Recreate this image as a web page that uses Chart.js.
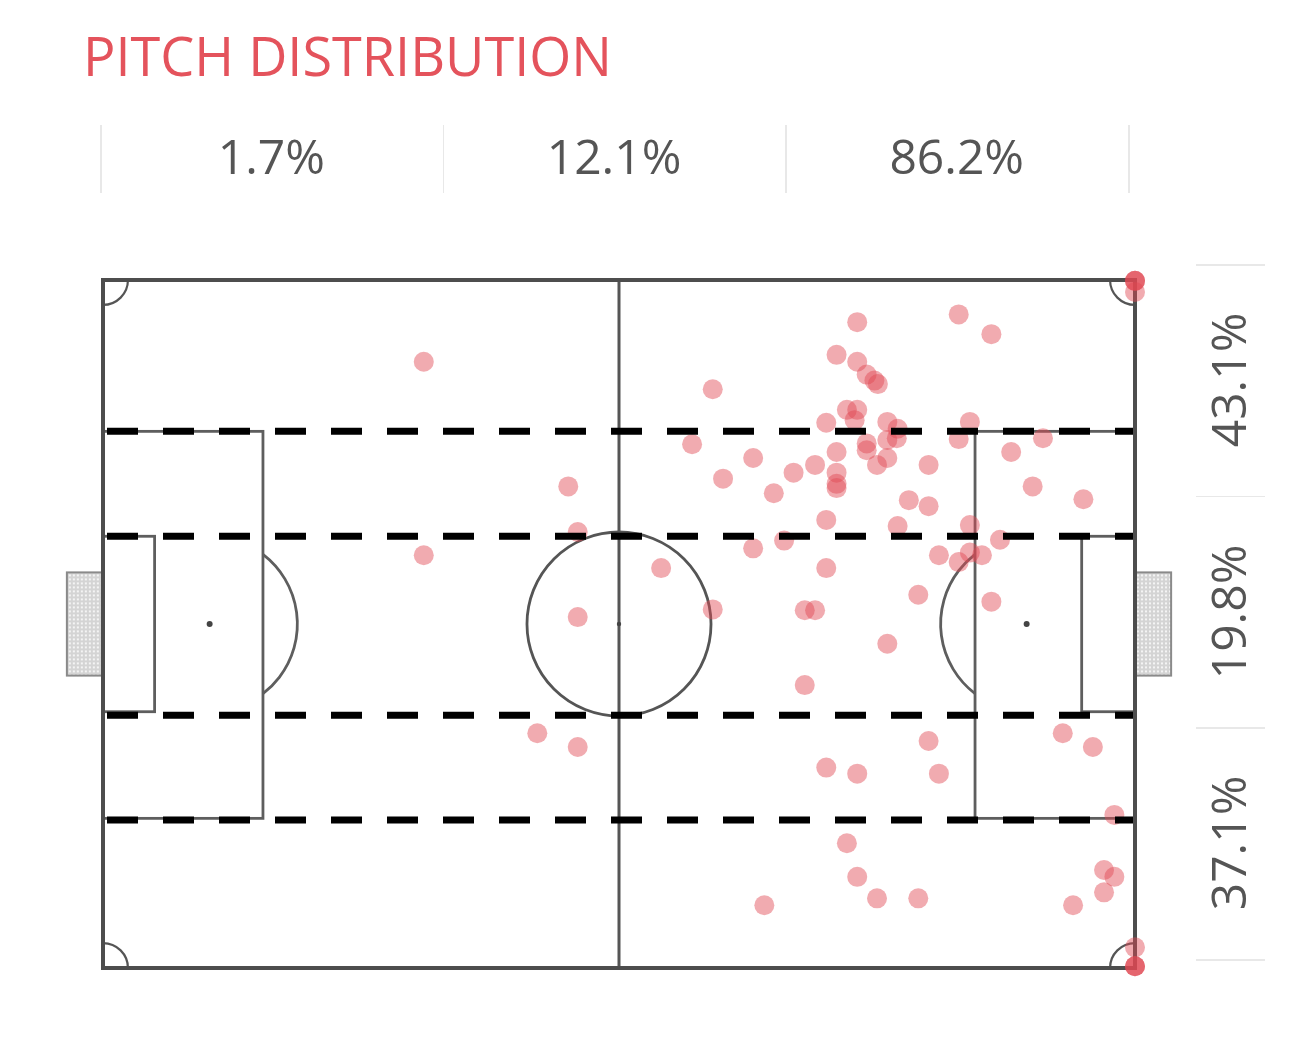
<!DOCTYPE html>
<html>
<head>
<meta charset="utf-8">
<title>Pitch distribution</title>
<script src="https://cdn.jsdelivr.net/npm/chart.js@4.4.1/dist/chart.umd.min.js"></script>
<style>
  body { margin: 0; background: #fff; font-family: "Open Sans", sans-serif; }
  #wrap { position: relative; width: 1316px; height: 1038px; overflow: hidden; }
  #pitchChart { position: absolute; left: 0; top: 0; }
  .title { position: absolute; left: 83px; top: 28px; font-size: 54px; line-height: 55px; color: #e4535c; white-space: nowrap; }
  .pct { position: absolute; font-size: 48px; line-height: 48px; height: 48px; color: #555; text-align: center; white-space: nowrap; }
  .sep { position: absolute; background: #e8e8e8; }
</style>
</head>
<body>
<div id="wrap">
  <canvas id="pitchChart" width="1316" height="1038"></canvas>
  <div class="title">PITCH DISTRIBUTION</div>
</div>
<script>
// share of events per third of the pitch (left to right) and per channel (top to bottom)
const thirdLabels = ['1.7%', '12.1%', '86.2%'];
const channelLabels = ['43.1%', '19.8%', '37.1%'];

// event locations, pitch units 120 x 80 (y measured from the top touchline)
const eventX = [
  37.3, 37.3, 54.1, 55.2, 55.2, 50.5, 55.2, 64.9, 70.9, 68.5,
  70.9, 72.1, 75.6, 78.0, 80.3, 75.6, 79.2, 76.9, 81.6, 82.8,
  81.6, 87.7, 99.5, 103.3, 85.3, 87.7, 88.8, 89.7, 90.1, 86.5,
  87.7, 87.4, 84.1, 91.2, 92.4, 92.3, 91.2, 88.8, 88.8, 85.3,
  91.2, 90.0, 82.8, 85.3, 85.3, 85.3, 96.0, 100.8, 99.5, 109.3,
  105.6, 108.1, 114.0, 93.7, 96.0, 84.1, 92.4, 100.8, 104.3, 97.2,
  99.5, 100.8, 102.2, 84.1, 94.8, 103.3, 91.2, 96.0, 111.6, 115.1,
  84.1, 87.7, 97.2, 117.6, 86.5, 87.7, 116.4, 117.6, 116.4, 90.0,
  94.8, 112.8,
  120, 120, 120, 120, 120, 120, 120, 120
];
const eventY = [
  9.5, 32.0, 24.0, 29.3, 39.2, 52.7, 54.3, 33.5, 12.7, 19.1,
  38.3, 23.1, 20.7, 24.8, 22.4, 31.2, 30.3, 72.7, 38.4, 38.4,
  47.1, 4.9, 4.0, 6.3, 8.7, 9.5, 11.0, 11.7, 12.1, 15.1,
  15.1, 16.3, 16.6, 16.5, 17.3, 18.4, 18.6, 19.0, 19.8, 20.0,
  20.7, 21.5, 21.5, 22.4, 23.7, 24.2, 21.5, 16.5, 18.5, 18.4,
  20.0, 24.0, 25.5, 25.6, 26.3, 27.9, 28.6, 28.5, 30.2, 32.0,
  32.8, 31.7, 32.0, 33.5, 36.6, 37.4, 42.3, 53.6, 52.7, 54.3,
  56.7, 57.4, 57.4, 62.2, 65.5, 69.4, 68.6, 69.4, 71.2, 71.9,
  71.9, 72.7,
  0.1, 0.1, 0.1, 1.4, 77.6, 79.8, 79.8, 79.8
];

// channel boundaries drawn as dashed lines
const channelBreaks = [17.6, 29.8, 50.6, 62.8];

const points = eventX.map((x, i) => ({ x: x, y: eventY[i] }));

// labels above and beside the pitch
const wrap = document.getElementById('wrap');
function addDiv(cls, css, text) {
  const d = document.createElement('div');
  d.className = cls;
  Object.assign(d.style, css);
  if (text) d.textContent = text;
  wrap.appendChild(d);
  return d;
}
const colW = 342.7;
for (let i = 0; i <= thirdLabels.length; i++) {
  addDiv('sep', { left: (100 + i * colW) + 'px', top: '125px', width: '1.5px', height: '68px' });
}
thirdLabels.forEach((t, i) => {
  addDiv('pct', { left: (100 + i * colW) + 'px', top: '132px', width: colW + 'px' }, t);
});
const rowH = 231.7;
for (let i = 0; i <= channelLabels.length; i++) {
  addDiv('sep', { left: '1196px', top: (264 + i * rowH) + 'px', width: '69px', height: '1.5px' });
}
channelLabels.forEach((t, i) => {
  const cy = 264 + (i + 0.5) * rowH;
  addDiv('pct', { left: (1228 - rowH / 2) + 'px', top: (cy - 24) + 'px', width: rowH + 'px', transform: 'rotate(-90deg)' }, t);
});

// pitch markings under the points, dashed channel lines over them
const pitchPlugin = {
  id: 'pitch',
  beforeDatasetsDraw(chart) {
    const { ctx, scales: { x, y } } = chart;
    const px = v => x.getPixelForValue(v);
    const py = v => y.getPixelForValue(v);
    const u = px(1) - px(0);
    ctx.save();

    // goals with net
    [[-4.2, 0], [120, 124.2]].forEach(([a, b]) => {
      const l = px(a), t = py(34), w = px(b) - px(a), h = py(46) - py(34);
      ctx.fillStyle = '#d4d4d4';
      ctx.fillRect(l, t, w, h);
      ctx.fillStyle = '#f4f4f4';
      for (let gx = l + 2; gx < l + w - 1; gx += 4) {
        for (let gy = t + 2; gy < t + h - 1; gy += 4) ctx.fillRect(gx, gy, 2, 2);
      }
      ctx.strokeStyle = '#8a8a8a';
      ctx.lineWidth = 2;
      ctx.strokeRect(l, t, w, h);
    });

    ctx.strokeStyle = '#5e5e5e';
    ctx.lineWidth = 2.8;
    // penalty and six-yard boxes
    ctx.strokeRect(px(0), py(17.6), px(18.6) - px(0), py(62.6) - py(17.6));
    ctx.strokeRect(px(101.4), py(17.6), px(120) - px(101.4), py(62.6) - py(17.6));
    ctx.strokeRect(px(0), py(29.8), px(6) - px(0), py(50.2) - py(29.8));
    ctx.strokeRect(px(113.8), py(29.8), px(120) - px(113.8), py(50.2) - py(29.8));

    // penalty arcs
    const a = Math.acos((18.6 - 12.4) / 10.2);
    ctx.beginPath();
    ctx.arc(px(12.4), py(40), 10.2 * u, -a, a);
    ctx.stroke();
    ctx.beginPath();
    ctx.arc(px(107.6), py(40), 10.2 * u, Math.PI - a, Math.PI + a);
    ctx.stroke();

    // centre circle and halfway line
    ctx.strokeStyle = '#555';
    ctx.lineWidth = 2.8;
    ctx.beginPath();
    ctx.arc(px(60), py(40), 10.7 * u, 0, Math.PI * 2);
    ctx.stroke();
    ctx.lineWidth = 3;
    ctx.beginPath();
    ctx.moveTo(px(60), py(0));
    ctx.lineTo(px(60), py(80));
    ctx.stroke();

    // corner arcs
    ctx.lineWidth = 2.2;
    const r = 2.9 * u;
    [[0, 0, 0], [120, 0, 0.5], [120, 80, 1], [0, 80, 1.5]].forEach(([cx, cy, s]) => {
      ctx.beginPath();
      ctx.arc(px(cx), py(cy), r, s * Math.PI, (s + 0.5) * Math.PI);
      ctx.stroke();
    });

    // spots
    ctx.fillStyle = '#444';
    [[12.4, 3], [107.4, 3], [60, 2.2]].forEach(([sx, sr]) => {
      ctx.beginPath();
      ctx.arc(px(sx), py(40), sr, 0, Math.PI * 2);
      ctx.fill();
    });

    // outline
    ctx.strokeStyle = '#4d4d4d';
    ctx.lineWidth = 4;
    ctx.strokeRect(px(0), py(0), px(120) - px(0), py(80) - py(0));
    ctx.restore();
  },
  afterDatasetsDraw(chart) {
    const { ctx, scales: { x, y } } = chart;
    ctx.save();
    ctx.strokeStyle = '#000';
    ctx.lineWidth = 7;
    ctx.setLineDash([31, 25]);
    channelBreaks.forEach(v => {
      const yy = y.getPixelForValue(v);
      ctx.beginPath();
      ctx.moveTo(x.getPixelForValue(0) + 4, yy);
      ctx.lineTo(x.getPixelForValue(120) - 2, yy);
      ctx.stroke();
    });
    ctx.restore();
  }
};

const ctx = document.getElementById('pitchChart').getContext('2d');
const chart = new Chart(ctx, {
  type: 'scatter',
  data: {
    datasets: [{
      label: 'Events',
      data: points,
      backgroundColor: 'rgba(224, 72, 82, 0.46)',
      borderWidth: 0,
      pointRadius: 10,
      clip: false
    }]
  },
  options: {
    responsive: false,
    animation: false,
    events: [],
    layout: { padding: { left: 103, right: 181, top: 280, bottom: 70 } },
    scales: {
      x: { type: 'linear', min: 0, max: 120, display: false },
      y: { type: 'linear', min: 0, max: 80, reverse: true, display: false }
    },
    plugins: {
      legend: { display: false },
      tooltip: { enabled: false }
    }
  },
  plugins: [pitchPlugin]
});
</script>
</body>
</html>
